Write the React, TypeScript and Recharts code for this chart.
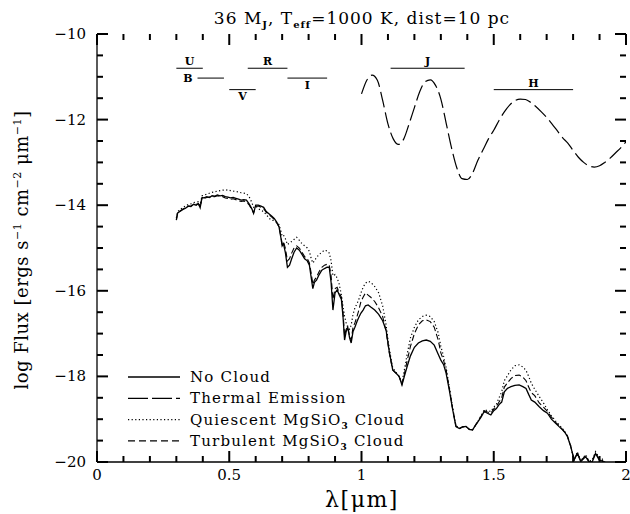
import React from "react";
import { LineChart, Line, XAxis, YAxis, ReferenceLine } from "recharts";

// wavelength grid of the reflected spectra (micron)
const WAVE = [
  0.300, 0.305, 0.315, 0.325, 0.335, 0.345, 0.355, 0.365, 0.375, 0.383,
  0.390, 0.397, 0.405, 0.415, 0.425, 0.435, 0.445, 0.455, 0.465, 0.475,
  0.485, 0.495, 0.505, 0.515, 0.525, 0.535, 0.545, 0.555, 0.565, 0.575,
  0.585, 0.592, 0.600, 0.610, 0.620, 0.630, 0.640, 0.650, 0.660, 0.670,
  0.680, 0.688, 0.695, 0.700, 0.705, 0.712, 0.720, 0.728, 0.736, 0.745,
  0.755, 0.765, 0.775, 0.785, 0.795, 0.803, 0.810, 0.816, 0.822, 0.830,
  0.840, 0.850, 0.860, 0.870, 0.878, 0.885, 0.892, 0.900, 0.908, 0.916,
  0.924, 0.930, 0.936, 0.942, 0.948, 0.955, 0.961, 0.968, 0.975, 0.983,
  0.990, 0.998, 1.006, 1.015, 1.025, 1.035, 1.050, 1.065, 1.080, 1.093,
  1.105, 1.118, 1.130, 1.142, 1.153, 1.162, 1.172, 1.185, 1.200, 1.215,
  1.230, 1.245, 1.260, 1.275, 1.290, 1.300, 1.310, 1.320, 1.332, 1.345,
  1.357, 1.370, 1.382, 1.395, 1.408, 1.420, 1.430, 1.440, 1.452, 1.464,
  1.476, 1.489, 1.500, 1.510, 1.520, 1.530, 1.540, 1.552, 1.565, 1.580,
  1.596, 1.610, 1.622, 1.632, 1.642, 1.655, 1.672, 1.688, 1.703, 1.718,
  1.735, 1.748, 1.760, 1.770, 1.779, 1.791, 1.804, 1.816, 1.829, 1.840,
  1.848, 1.860, 1.872, 1.885, 1.898, 1.910, 1.920, 1.935, 1.950,
];

const NO_CLOUD = [
  -14.35, -14.18, -14.14, -14.10, -14.07, -14.02, -14.03, -13.98, -14.00, -13.96,
  -14.06, -13.82, -13.83, -13.80, -13.82, -13.78, -13.79, -13.76, -13.78, -13.77,
  -13.80, -13.81, -13.83, -13.82, -13.84, -13.86, -13.88, -13.87, -13.88, -13.97,
  -14.08, -14.19, -14.00, -14.00, -14.02, -14.05, -14.15, -14.20, -14.25, -14.31,
  -14.40, -14.50, -14.75, -14.95, -14.90, -15.10, -15.45, -15.40, -15.25, -15.10,
  -15.00, -15.05, -15.15, -15.25, -15.30, -15.40, -15.70, -15.95, -15.80, -15.75,
  -15.62, -15.52, -15.48, -15.45, -15.45, -15.80, -16.45, -16.05, -15.98, -16.10,
  -16.20, -16.60, -17.15, -16.95, -16.85, -17.10, -17.22, -16.95, -16.85, -16.72,
  -16.62, -16.52, -16.45, -16.35, -16.33, -16.38, -16.45, -16.55, -16.70, -16.92,
  -17.42, -17.85, -17.92, -18.00, -18.20, -18.00, -17.78, -17.52, -17.32, -17.22,
  -17.17, -17.15, -17.18, -17.27, -17.48, -17.62, -17.72, -17.93, -18.32, -18.79,
  -19.17, -19.22, -19.18, -19.17, -19.24, -19.25, -19.15, -19.06, -18.95, -18.82,
  -18.86, -18.90, -18.80, -18.75, -18.66, -18.60, -18.36, -18.28, -18.24, -18.21,
  -18.20, -18.24, -18.28, -18.42, -18.55, -18.60, -18.71, -18.80, -18.86, -19.00,
  -19.10, -19.18, -19.25, -19.32, -19.41, -19.64, -19.95, -19.80, -19.99, -19.92,
  -19.88, -20.00, -20.00, -19.80, -19.95, -19.98, -20.05, -20.10, -20.20,
];

const TURBULENT = [
  -14.33, -14.17, -14.13, -14.09, -14.06, -14.03, -14.02, -13.99, -13.98, -13.97,
  -14.04, -13.83, -13.84, -13.82, -13.81, -13.80, -13.80, -13.78, -13.79, -13.80,
  -13.83, -13.84, -13.86, -13.85, -13.87, -13.90, -13.91, -13.90, -13.92, -13.99,
  -14.10, -14.18, -14.03, -14.02, -14.05, -14.08, -14.17, -14.22, -14.27, -14.33,
  -14.42, -14.50, -14.72, -14.90, -14.85, -15.00, -15.30, -15.25, -15.12, -15.00,
  -14.95, -15.00, -15.10, -15.20, -15.25, -15.35, -15.60, -15.85, -15.75, -15.68,
  -15.55, -15.45, -15.40, -15.38, -15.40, -15.65, -16.20, -15.95, -15.92, -16.05,
  -16.15, -16.50, -17.05, -16.90, -16.85, -17.05, -17.15, -16.85, -16.75, -16.60,
  -16.45, -16.25, -16.15, -16.05, -16.10, -16.15, -16.25, -16.40, -16.60, -16.95,
  -17.45, -17.85, -17.92, -18.00, -18.18, -17.95, -17.65, -17.30, -17.00, -16.80,
  -16.70, -16.68, -16.72, -16.85, -17.15, -17.45, -17.62, -17.85, -18.28, -18.77,
  -19.16, -19.22, -19.18, -19.17, -19.24, -19.25, -19.15, -19.05, -18.93, -18.80,
  -18.83, -18.86, -18.76, -18.70, -18.60, -18.50, -18.25, -18.15, -18.05, -17.98,
  -17.97, -18.02, -18.10, -18.25, -18.38, -18.45, -18.62, -18.72, -18.82, -18.95,
  -19.08, -19.16, -19.24, -19.31, -19.40, -19.63, -19.95, -19.78, -19.98, -19.90,
  -19.85, -19.99, -19.98, -19.78, -19.93, -19.96, -20.02, -20.06, -20.15,
];

const QUIESCENT = [
  -14.30, -14.15, -14.10, -14.05, -14.02, -13.98, -13.97, -13.94, -13.93, -13.92,
  -14.00, -13.78, -13.77, -13.74, -13.72, -13.70, -13.69, -13.67, -13.66, -13.65,
  -13.65, -13.64, -13.66, -13.67, -13.68, -13.69, -13.71, -13.72, -13.73, -13.80,
  -13.93, -14.05, -14.02, -14.08, -14.12, -14.15, -14.22, -14.30, -14.35, -14.36,
  -14.40, -14.45, -14.60, -14.72, -14.70, -14.78, -14.92, -14.88, -14.85, -14.80,
  -14.75, -14.82, -14.90, -14.95, -15.00, -15.08, -15.25, -15.35, -15.30, -15.22,
  -15.15, -15.10, -15.05, -15.07, -15.12, -15.30, -15.65, -15.62, -15.70, -15.85,
  -16.10, -16.35, -16.60, -16.75, -16.85, -16.90, -16.80, -16.55, -16.40, -16.30,
  -16.20, -16.05, -15.92, -15.82, -15.78, -15.80, -15.90, -16.05, -16.35, -16.80,
  -17.35, -17.80, -17.90, -18.00, -18.15, -17.85, -17.50, -17.10, -16.85, -16.68,
  -16.60, -16.57, -16.60, -16.72, -16.98, -17.30, -17.52, -17.80, -18.25, -18.75,
  -19.15, -19.22, -19.18, -19.17, -19.24, -19.25, -19.15, -19.05, -18.92, -18.78,
  -18.80, -18.82, -18.72, -18.65, -18.50, -18.36, -18.10, -17.98, -17.85, -17.75,
  -17.73, -17.78, -17.86, -18.00, -18.16, -18.30, -18.47, -18.62, -18.78, -18.92,
  -19.05, -19.14, -19.22, -19.30, -19.40, -19.62, -19.95, -19.76, -19.98, -19.88,
  -19.83, -19.98, -19.96, -19.76, -19.90, -19.93, -20.00, -20.02, -20.10,
];

// thermal emission curve
const THERMAL_WAVE = [
  1.00, 1.02, 1.04, 1.06, 1.08, 1.10, 1.12, 1.14, 1.16, 1.18,
  1.20, 1.22, 1.24, 1.26, 1.28, 1.30, 1.32, 1.34, 1.36, 1.38,
  1.40, 1.42, 1.44, 1.46, 1.48, 1.50, 1.52, 1.54, 1.56, 1.58,
  1.60, 1.62, 1.64, 1.66, 1.68, 1.70, 1.72, 1.74, 1.76, 1.78,
  1.80, 1.82, 1.84, 1.86, 1.88, 1.90, 1.92, 1.94, 1.96, 1.98,
  2.00,
];
const THERMAL_FLUX = [
  -11.40, -11.08, -10.96, -11.08, -11.55, -12.10, -12.45, -12.58, -12.45, -12.10,
  -11.72, -11.35, -11.12, -11.07, -11.20, -11.52, -12.08, -12.65, -13.12, -13.38,
  -13.40, -13.25, -12.95, -12.70, -12.45, -12.25, -12.02, -11.82, -11.66, -11.56,
  -11.52, -11.53, -11.60, -11.70, -11.82, -11.95, -12.10, -12.26, -12.42, -12.55,
  -12.72, -12.88, -13.00, -13.08, -13.11, -13.08, -13.00, -12.90, -12.78, -12.66,
  -12.52,
];

// photometric bands: name, range (micron), bar level, label side
const BANDS = [
  { name: "U", from: 0.3, to: 0.4, level: -10.8, side: "top" },
  { name: "B", from: 0.38, to: 0.48, level: -11.03, side: "left" },
  { name: "V", from: 0.5, to: 0.6, level: -11.3, side: "bottom" },
  { name: "R", from: 0.57, to: 0.72, level: -10.8, side: "top" },
  { name: "I", from: 0.72, to: 0.87, level: -11.03, side: "bottom" },
  { name: "J", from: 1.11, to: 1.39, level: -10.8, side: "top" },
  { name: "H", from: 1.5, to: 1.8, level: -11.3, side: "top" },
];

const X_TICKS = [
  0, 0.1, 0.2, 0.3, 0.4, 0.5, 0.6, 0.7, 0.8, 0.9, 1, 1.1, 1.2, 1.3, 1.4, 1.5,
  1.6, 1.7, 1.8, 1.9, 2,
];
const Y_TICKS = [
  -20, -19.5, -19, -18.5, -18, -17.5, -17, -16.5, -16, -15.5, -15, -14.5, -14,
  -13.5, -13, -12.5, -12, -11.5, -11, -10.5, -10,
];
const X_DOMAIN = [0, 2];
const Y_DOMAIN = [-20, -10];

const FONT = "'DejaVu Serif', serif";
const W = 630;
const H = 514;
const M = { top: 34, right: 4, left: 0, bottom: 0 };
const Y_AXIS_W = 97;
const X_AXIS_H = 52;
const PLOT_W = W - M.left - M.right - Y_AXIS_W;
const PLOT_H = H - M.top - M.bottom - X_AXIS_H;
// inward tick lengths (px) expressed in data units so they go through the scales
const MAJOR = 11;
const MINOR = 6;
const xUnit = (X_DOMAIN[1] - X_DOMAIN[0]) / PLOT_W;
const yUnit = (Y_DOMAIN[1] - Y_DOMAIN[0]) / PLOT_H;

const spectrum = WAVE.map((w, i) => ({
  w,
  nc: NO_CLOUD[i],
  tc: TURBULENT[i],
  qc: QUIESCENT[i],
}));
const thermal = THERMAL_WAVE.map((w, i) => ({ w, te: THERMAL_FLUX[i] }));

const majorX = (v: number) => Math.abs(v * 2 - Math.round(v * 2)) < 1e-6;
const majorY = (v: number) => Math.abs(v / 2 - Math.round(v / 2)) < 1e-6;

function BottomLabel(props: any) {
  const v = props.payload.value;
  if (!majorX(v)) return <g />;
  return (
    <text x={Number(props.x)} y={Number(props.y) + 18} textAnchor="middle" fontSize={15} fontFamily={FONT} fill="#000">
      {String(v)}
    </text>
  );
}

function LeftLabel(props: any) {
  const v = props.payload.value;
  if (!majorY(v)) return <g />;
  return (
    <text x={Number(props.x) - 11} y={Number(props.y) + 5} textAnchor="end" fontSize={15} fontFamily={FONT} fill="#000">
      {"\u2212" + Math.abs(v)}
    </text>
  );
}

const LEGEND = [
  { label: "No Cloud", dash: undefined },
  { label: "Thermal Emission", dash: "20 4" },
  { label: "Quiescent MgSiO", sub: "3", rest: " Cloud", dash: "1.2 2.4" },
  { label: "Turbulent MgSiO", sub: "3", rest: " Cloud", dash: "7 4" },
];

const tickStyle = { stroke: "#000", strokeWidth: 2, ifOverflow: "visible" as const };

export default function App() {
  return (
    <div style={{ position: "absolute", left: 0, top: 0, width: W, height: H, background: "#fff" }}>
      <LineChart width={W} height={H} data={spectrum} margin={M}>
        <XAxis
          dataKey="w"
          type="number"
          domain={X_DOMAIN}
          ticks={X_TICKS}
          interval={0}
          height={X_AXIS_H}
          tickSize={0}
          tickMargin={0}
          tickLine={false}
          axisLine={{ stroke: "#000", strokeWidth: 1.3 }}
          tick={BottomLabel}
          allowDataOverflow
        />
        <XAxis
          xAxisId="top"
          orientation="top"
          dataKey="w"
          type="number"
          domain={X_DOMAIN}
          height={0}
          tick={false}
          tickLine={false}
          axisLine={{ stroke: "#000", strokeWidth: 1.3 }}
          allowDataOverflow
        />
        <YAxis
          type="number"
          domain={Y_DOMAIN}
          ticks={Y_TICKS}
          interval={0}
          width={Y_AXIS_W}
          tickSize={0}
          tickMargin={0}
          tickLine={false}
          axisLine={{ stroke: "#000", strokeWidth: 1.3 }}
          tick={LeftLabel}
          allowDataOverflow
        />
        <YAxis
          yAxisId="right"
          orientation="right"
          type="number"
          domain={Y_DOMAIN}
          width={0}
          tick={false}
          tickLine={false}
          axisLine={{ stroke: "#000", strokeWidth: 1.3 }}
          allowDataOverflow
        />

        {X_TICKS.map((v) => {
          const len = (majorX(v) ? MAJOR : MINOR) * yUnit;
          return [
            <ReferenceLine
              key={`xb${v}`}
              segment={[{ x: v, y: Y_DOMAIN[0] }, { x: v, y: Y_DOMAIN[0] + len }]}
              {...tickStyle}
            />,
            <ReferenceLine
              key={`xt${v}`}
              segment={[{ x: v, y: Y_DOMAIN[1] }, { x: v, y: Y_DOMAIN[1] - len }]}
              {...tickStyle}
            />,
          ];
        })}
        {Y_TICKS.map((v) => {
          const len = (majorY(v) ? MAJOR : MINOR) * xUnit;
          return [
            <ReferenceLine
              key={`yl${v}`}
              segment={[{ x: X_DOMAIN[0], y: v }, { x: X_DOMAIN[0] + len, y: v }]}
              {...tickStyle}
            />,
            <ReferenceLine
              key={`yr${v}`}
              segment={[{ x: X_DOMAIN[1], y: v }, { x: X_DOMAIN[1] - len, y: v }]}
              {...tickStyle}
            />,
          ];
        })}

        {BANDS.map((b) => (
          <ReferenceLine
            key={b.name}
            segment={[
              { x: b.from, y: b.level },
              { x: b.to, y: b.level },
            ]}
            stroke="#000"
            strokeWidth={1}
            ifOverflow="visible"
            label={{
              value: b.name,
              position: b.side as any,
              offset: b.side === "left" ? 5 : 3,
              fontSize: 11,
              fontWeight: "bold",
              fontFamily: FONT,
              fill: "#000",
            }}
          />
        ))}

        <Line
          dataKey="qc"
          type="linear"
          stroke="#000"
          strokeWidth={1.2}
          strokeDasharray="1.2 2.4"
          dot={false}
          isAnimationActive={false}
        />
        <Line
          dataKey="tc"
          type="linear"
          stroke="#000"
          strokeWidth={1.1}
          strokeDasharray="6 3"
          dot={false}
          isAnimationActive={false}
        />
        <Line
          dataKey="nc"
          type="linear"
          stroke="#000"
          strokeWidth={1.3}
          dot={false}
          isAnimationActive={false}
        />
        <Line
          data={thermal}
          dataKey="te"
          xAxisId="top"
          yAxisId="right"
          type="monotone"
          stroke="#000"
          strokeWidth={1.2}
          strokeDasharray="16 5"
          dot={false}
          isAnimationActive={false}
        />
      </LineChart>

      <svg
        width={W}
        height={H}
        style={{ position: "absolute", left: 0, top: 0, pointerEvents: "none" }}
        fontFamily={FONT}
      >
        <text x={362} y={24} textAnchor="middle" fontSize={17} letterSpacing={1}>
          36 M
          <tspan fontSize={10} fontWeight="bold" dy={4}>J</tspan>
          <tspan dy={-4}>, T</tspan>
          <tspan fontSize={10} fontWeight="bold" dy={4}>eff</tspan>
          <tspan dy={-4}>=1000 K, dist=10 pc</tspan>
        </text>

        <text x={362} y={507} textAnchor="middle" fontSize={22} letterSpacing={1.5}>
          λ[μm]
        </text>

        <text
          transform="translate(28,250) rotate(-90)"
          textAnchor="middle"
          fontSize={18}
          letterSpacing={0.5}
        >
          log Flux [ergs s
          <tspan fontSize={11} dy={-7}>−1</tspan>
          <tspan dy={7}> cm</tspan>
          <tspan fontSize={11} dy={-7}>−2</tspan>
          <tspan dy={7}> μm</tspan>
          <tspan fontSize={11} dy={-7}>−1</tspan>
          <tspan dy={7}>]</tspan>
        </text>

        {LEGEND.map((item, i) => {
          const y = 377 + i * 21.3;
          return (
            <g key={item.label}>
              <line
                x1={128}
                x2={180}
                y1={y}
                y2={y}
                stroke="#000"
                strokeWidth={item.dash === "1.2 2.4" ? 1.2 : 1.3}
                strokeDasharray={item.dash}
              />
              <text x={190} y={y + 5} fontSize={15} letterSpacing={1.2}>
                {item.label}
                {item.sub && (
                  <>
                    <tspan fontSize={9} fontWeight="bold" dy={4}>{item.sub}</tspan>
                    <tspan dy={-4}>{item.rest}</tspan>
                  </>
                )}
              </text>
            </g>
          );
        })}
      </svg>
    </div>
  );
}
